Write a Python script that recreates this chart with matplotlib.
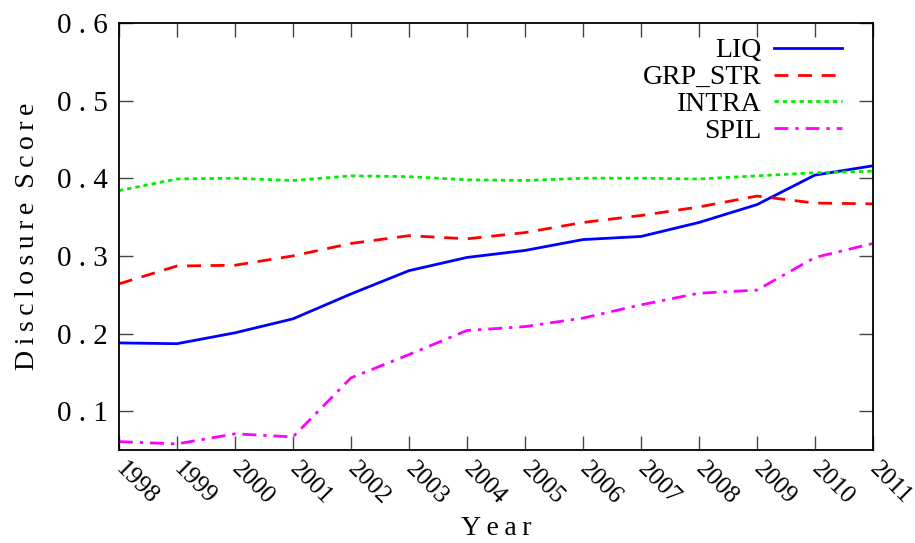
import matplotlib
matplotlib.use('Agg')
import matplotlib.pyplot as plt

years = [1998, 1999, 2000, 2001, 2002, 2003, 2004, 2005, 2006, 2007, 2008, 2009, 2010, 2011]

liq = [0.188, 0.187, 0.201, 0.219, 0.251, 0.281, 0.298, 0.307, 0.321, 0.325, 0.343, 0.366, 0.404, 0.416]
grp_str = [0.264, 0.287, 0.288, 0.300, 0.316, 0.326, 0.322, 0.330, 0.343, 0.352, 0.363, 0.377, 0.368, 0.367]
intra = [0.384, 0.399, 0.400, 0.397, 0.403, 0.402, 0.398, 0.397, 0.400, 0.400, 0.399, 0.403, 0.407, 0.409]
spil = [0.061, 0.058, 0.071, 0.067, 0.143, 0.173, 0.204, 0.209, 0.220, 0.237, 0.252, 0.256, 0.298, 0.316]

yticks = [0.1, 0.2, 0.3, 0.4, 0.5, 0.6]

plt.rcParams['font.family'] = ['Liberation Serif', 'DejaVu Serif']

def spaced(s):
    # gnuplot-style letter spacing using thin spaces
    return '\u2009'.join(s)

fig = plt.figure(figsize=(9.15, 5.43), dpi=100)
ax = fig.add_axes([0.130, 0.171, 0.824, 0.787])

lw = 2.0
ax.plot(years, liq, color='#0000ff', lw=lw, ls='-', label='LIQ')
ax.plot(years, grp_str, color='#ff0000', lw=lw, ls=(0, (5, 3.5)), label='GRP_STR')
ax.plot(years, intra, color='#00ee00', lw=lw, ls=(0, (1.6, 1.4)), label='INTRA')
ax.plot(years, spil, color='#ff00ff', lw=lw, ls=(0, (5, 2.5, 1.2, 2.5)), label='SPIL')

ax.set_xlim(1998, 2011)
ax.set_ylim(0.05, 0.6)
ax.set_xticks(years)
ax.set_xticklabels([str(y) for y in years], rotation=-45, rotation_mode='anchor',
                   ha='left', va='center', fontsize=18)
ax.set_yticks(yticks)
ax.set_yticklabels(['0 . %d' % round(v * 10) for v in yticks], fontsize=21)

ax.tick_params(direction='in', length=10, width=1, top=True, right=True, color='#444444')
ax.tick_params(axis='x', pad=11)
ax.tick_params(axis='y', pad=8)
for s in ax.spines.values():
    s.set_linewidth(1.3)

ax.set_ylabel(spaced('Disclosure') + '  ' + spaced('Score'), fontsize=20, labelpad=12)
ax.set_xlabel(spaced('Year'), fontsize=20, labelpad=5)

leg = ax.legend(loc='upper right', frameon=False, markerfirst=False, fontsize=20,
                handlelength=2.45, handletextpad=0.45, labelspacing=0.05,
                borderaxespad=0.3, bbox_to_anchor=(0.985, 1.01))

fig.savefig('out.png', dpi=100)
